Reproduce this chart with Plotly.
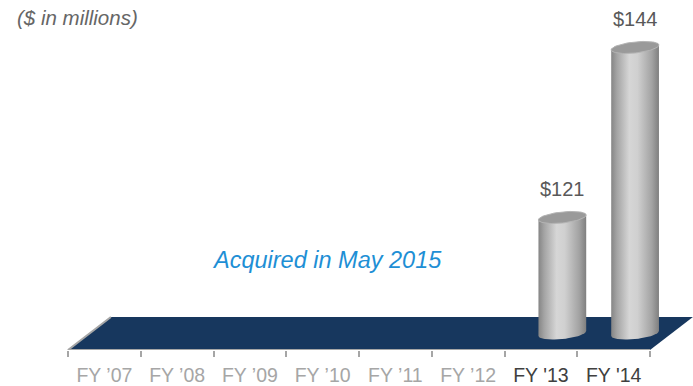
import numpy as np
import plotly.graph_objects as go

# ---- data ----
years = ["FY \u201907", "FY \u201908", "FY \u201909", "FY \u201910",
         "FY \u201911", "FY \u201912", "FY '13", "FY '14"]
revenue = [None, None, None, None, None, None, 121, 144]   # $ in millions
value_labels = ["", "", "", "", "", "", "$121", "$144"]
note_text = "Acquired in May 2015"
unit_text = "($ in millions)"

# ---- geometry of the pseudo-3D scene (axis units) ----
W, H = 693, 386
PX_X = 72.75          # pixels per category
PX_Y = 7.391          # pixels per $m on the value axis
BASE = 105.3          # value-axis level of the floor mid-line
DEPTH_X = 0.59        # floor depth, horizontal component (categories)
DEPTH_Y = 4.46        # floor depth, vertical component ($m)
RADIUS = 0.33         # cylinder radius in categories
ELL_RY = 5.5          # ellipse half-height in pixels
TILT = np.deg2rad(6)  # slight tilt of cylinder caps

n = len(years)
x_left = -68 / PX_X
x_right = x_left + W / PX_X
y_bottom = BASE - DEPTH_Y / 2
y_back = BASE + DEPTH_Y / 2
y_top = BASE + 333.5 / PX_Y

fig = go.Figure()

# floor
fx = [0, n, n + DEPTH_X, DEPTH_X, 0]
fy = [y_bottom, y_bottom, y_back, y_back, y_bottom]
fig.add_trace(go.Scatter(x=fx, y=fy, mode="lines", fill="toself",
                         fillcolor="#17375e", line=dict(width=0),
                         hoverinfo="skip", showlegend=False))
# floor edge: left slant and front (category axis line)
fig.add_trace(go.Scatter(x=[DEPTH_X, 0, n], y=[y_back, y_bottom, y_bottom],
                         mode="lines", line=dict(color="#a6a6a6", width=2),
                         hoverinfo="skip", showlegend=False, cliponaxis=False))


def ellipse(cx, cy, t):
    rx = RADIUS * PX_X
    ex = rx * np.cos(t)
    ey = ELL_RY * np.sin(t)
    px = ex * np.cos(TILT) - ey * np.sin(TILT)
    py = ex * np.sin(TILT) + ey * np.cos(TILT)
    return cx + px / PX_X, cy + py / PX_Y


body_scale = [[0.0, "#858585"], [0.12, "#a4a4a4"], [0.38, "#d6d6d6"],
              [0.55, "#d0d0d0"], [0.85, "#a3a3a3"], [1.0, "#7f7f7f"]]

for i, (v, lab) in enumerate(zip(revenue, value_labels)):
    if v is None:
        continue
    cx = i + 0.5 + DEPTH_X / 2
    # body: back arc of top cap, left side, front arc of base, right side
    t_top = np.linspace(0, np.pi, 40)
    tx, ty = ellipse(cx, v, t_top)
    t_bot = np.linspace(np.pi, 2 * np.pi, 40)
    bx, by = ellipse(cx, BASE, t_bot)
    xs = list(tx) + list(bx) + [tx[0]]
    ys = list(ty) + list(by) + [ty[0]]
    fig.add_trace(go.Scatter(
        x=xs, y=ys, mode="lines", fill="toself",
        fillgradient=dict(type="horizontal", colorscale=body_scale),
        line=dict(width=0), hoverinfo="skip", showlegend=False))
    # top cap
    t_all = np.linspace(0, 2 * np.pi, 80)
    cx_e, cy_e = ellipse(cx, v, t_all)
    fig.add_trace(go.Scatter(
        x=cx_e, y=cy_e, mode="lines", fill="toself",
        fillcolor="#9a9a9a", line=dict(color="#b5b5b5", width=1),
        hoverinfo="skip", showlegend=False))
    fig.add_annotation(x=cx, y=v, text=lab, showarrow=False,
                       yshift=28, yanchor="middle", xanchor="center",
                       font=dict(size=20, color="#595959"))

tick_text = []
for i, y in enumerate(years):
    color = "#404040" if revenue[i] is not None else "#a6a6a6"
    tick_text.append(f"<span style='color:{color}'>{y}</span>")

fig.update_xaxes(range=[x_left, x_right], domain=[0, 1],
                 showgrid=False, zeroline=False, showline=False,
                 tickvals=[i + 0.5 for i in range(n)], ticktext=tick_text,
                 ticks="", ticklabelstandoff=11,
                 tickfont=dict(size=19.5, color="#a6a6a6"),
                 minor=dict(tickvals=list(range(n + 1)), ticks="outside",
                            ticklen=6, tickcolor="#a6a6a6", tickwidth=1.5),
                 automargin=False, fixedrange=True)
fig.update_yaxes(range=[y_bottom, y_top], domain=[(H - 350) / H, 1],
                 visible=False, fixedrange=True)

fig.add_annotation(xref="paper", yref="paper", x=327 / W, y=1 - 260 / H,
                   xanchor="center", yanchor="middle",
                   text=f"<i>{note_text}</i>", showarrow=False,
                   font=dict(size=23.5, color="#1e8fd5"))
fig.add_annotation(xref="paper", yref="paper", x=15 / W, y=1 - 17 / H,
                   xanchor="left", yanchor="middle", text=f"<i>{unit_text}</i>",
                   showarrow=False, font=dict(size=20.5, color="#666666"))

fig.update_layout(width=W, height=H, margin=dict(l=0, r=0, t=0, b=0),
                  paper_bgcolor="white", plot_bgcolor="white",
                  font=dict(family="Arial, Liberation Sans, sans-serif"))

fig.write_html("out.html")
